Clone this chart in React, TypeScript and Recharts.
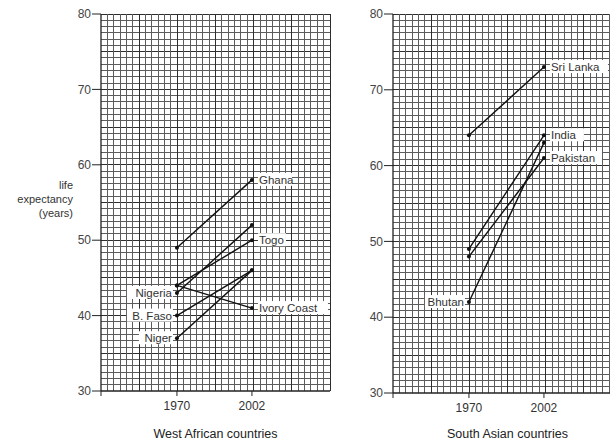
import React from "react";
import { LineChart, Line, XAxis, YAxis, ReferenceLine, LabelList } from "recharts";

const years = [1970, 2002];
const yTicks = [30, 40, 50, 60, 70, 80];

const westCountries = ["Ghana", "Togo", "Nigeria", "Ivory Coast", "B. Faso", "Niger"];
const west1970 = [49, 44, 43, 44, 40, 37];
const west2002 = [58, 50, 52, 41, 46, 46];

const southCountries = ["Sri Lanka", "India", "Pakistan", "Bhutan"];
const south1970 = [64, 49, 48, 42];
const south2002 = [73, 64, 61, 63];

// countries whose name sits beside the 1970 point instead of the 2002 one
const labelledLeft = ["Nigeria", "B. Faso", "Niger", "Bhutan"];

const X_DOMAIN: [number, number] = [1937.6, 2035.3];
const FONT = "'Liberation Sans', Arial, sans-serif";

// graph paper: 60 rows and 36 columns, heavier line every 6th
const ROWS = 60;
const COLS = 36;
const yGrid: number[] = [];
for (let k = 1; k <= ROWS; k++) yGrid.push(30 + (k * 50) / ROWS);
const xGrid: number[] = [];
for (let k = 1; k <= COLS; k++) xGrid.push(X_DOMAIN[0] + (k * (X_DOMAIN[1] - X_DOMAIN[0])) / COLS);

const CountryLabel = (name: string) => (props: any) => {
  const { x, y, index } = props;
  const left = labelledLeft.includes(name);
  if ((left && index !== 0) || (!left && index !== 1)) return null;
  const w = name.length * 6 + 2;
  const tx = left ? x - 5 : x + 7;
  return (
    <g>
      <rect x={left ? tx - w - 1 : tx - 1} y={y - 7} width={w + 2} height={13} fill="#fff" />
      <text x={tx} y={y + 4} textAnchor={left ? "end" : "start"} fontSize={11.5} fill="#333" fontFamily={FONT}>
        {name}
      </text>
    </g>
  );
};

const Dot = (props: any) => <circle cx={props.cx} cy={props.cy} r={2} fill="#111" />;

interface PanelProps {
  names: string[];
  from: number[];
  to: number[];
  title: string;
  yBottom: number;
}

const Panel: React.FC<PanelProps> = ({ names, from, to, title, yBottom }) => (
  <LineChart width={340} height={442} margin={{ top: 14, right: 10, left: 0, bottom: 0 }}>
    <XAxis
      dataKey="year"
      type="number"
      domain={X_DOMAIN}
      ticks={[X_DOMAIN[0], ...years]}
      tickFormatter={(v) => (years.includes(v) ? String(v) : "")}
      height={442 - yBottom}
      tickSize={5}
      tickMargin={5}
      axisLine={{ stroke: "#222", strokeWidth: 1.3 }}
      tickLine={{ stroke: "#222" }}
      tick={{ fontSize: 12, fill: "#333", fontFamily: FONT }}
      label={{ value: title, position: "insideBottom", offset: 4, fontSize: 12.5, fill: "#222", fontFamily: FONT }}
    />
    <YAxis
      type="number"
      domain={[30, 80]}
      ticks={yTicks}
      width={101}
      tickSize={9}
      tickMargin={1}
      axisLine={{ stroke: "#222", strokeWidth: 1.3 }}
      tickLine={{ stroke: "#222" }}
      tick={{ fontSize: 12, fill: "#444", fontFamily: FONT }}
    />
    {yGrid.map((v, i) => (
      <ReferenceLine
        key={"h" + i}
        y={v}
        stroke={(i + 1) % 6 === 0 ? "#2e2e2e" : "#5c5c5c"}
        strokeWidth={1}
        shapeRendering="crispEdges"
        zIndex={-100}
      />
    ))}
    {xGrid.map((v, i) => (
      <ReferenceLine
        key={"v" + i}
        x={v}
        stroke={(i + 1) % 6 === 0 ? "#2e2e2e" : "#5c5c5c"}
        strokeWidth={1}
        shapeRendering="crispEdges"
        zIndex={-100}
      />
    ))}
    {names.map((name, i) => (
      <Line
        key={name}
        data={years.map((year, j) => ({ year, v: j === 0 ? from[i] : to[i] }))}
        dataKey="v"
        stroke="#111"
        strokeWidth={1.4}
        dot={<Dot />}
        activeDot={false}
        isAnimationActive={false}
      >
        <LabelList dataKey="v" content={CountryLabel(name)} />
      </Line>
    ))}
  </LineChart>
);

export default function App() {
  return (
    <div style={{ position: "absolute", left: 0, top: 0, width: 610, height: 442, overflow: "hidden", background: "#fff", fontFamily: FONT }}>
      <div style={{ position: "absolute", left: 0, top: 0 }}>
        <Panel names={westCountries} from={west1970} to={west2002} title="West African countries" yBottom={391} />
      </div>
      <div style={{ position: "absolute", left: 292, top: 0 }}>
        <Panel names={southCountries} from={south1970} to={south2002} title="South Asian countries" yBottom={393} />
      </div>
      <div
        style={{
          position: "absolute",
          left: 0,
          width: 73,
          top: 178,
          textAlign: "right",
          fontSize: 11,
          lineHeight: "14px",
          color: "#333",
        }}
      >
        life
        <br />
        expectancy
        <br />
        (years)
      </div>
    </div>
  );
}
